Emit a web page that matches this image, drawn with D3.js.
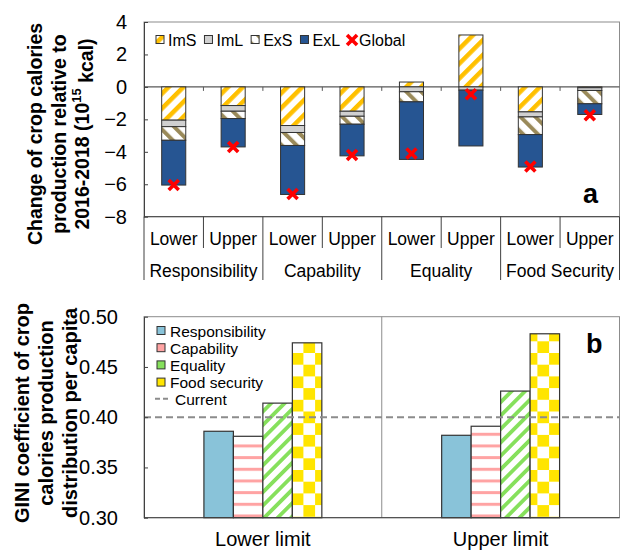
<!DOCTYPE html>
<html><head><meta charset="utf-8">
<script src="https://cdn.jsdelivr.net/npm/d3@7"></script>
<style>
html,body{margin:0;padding:0;background:#fff;}
text{font-family:"Liberation Sans",Arial,sans-serif;fill:#000;}
</style></head>
<body>
<svg id="chart" width="625" height="551"></svg>
<script>
// ---------- DATA ----------
const scenarios = ["Lower","Upper","Lower","Upper","Lower","Upper","Lower","Upper"];
const principles = ["Responsibility","Capability","Equality","Food Security"];
const seriesA = ["ImS","ImL","ExS","ExL"];
const ImS = [-2.05,-1.15,-2.38,-1.50, 0.30, 3.20,-1.54,-0.05];
const ImL = [-0.40,-0.35,-0.43,-0.31,-0.30,-0.20,-0.31,-0.17];
const ExS = [-0.84,-0.45,-0.80,-0.49,-0.62, 0.00,-1.09,-0.82];
const ExL = [-2.76,-1.75,-3.02,-1.95,-3.55,-3.44,-2.00,-0.66];
const Global = [-6.05,-3.70,-6.60,-4.20,-4.10,-0.45,-4.90,-1.75];
const yTicksA = [-8,-6,-4,-2,0,2,4];

const limits = ["Lower limit","Upper limit"];
const seriesB = ["Responsibility","Capability","Equality","Food security"];
const responsibility = [0.386, 0.382];
const capability = [0.381, 0.391];
const equality = [0.414, 0.426];
const foodSecurity = [0.474, 0.483];
const current = 0.40;
const yTicksB = [0.30,0.35,0.40,0.45,0.50];

// ---------- SETUP ----------
const svg = d3.select("#chart");
const defs = svg.append("defs");
function stripePattern(id, color, angle, period, band){
  const p = defs.append("pattern").attr("id",id).attr("patternUnits","userSpaceOnUse")
    .attr("width",period).attr("height",period).attr("patternTransform",`rotate(${angle})`);
  p.append("rect").attr("width",period).attr("height",period).attr("fill","#fff");
  p.append("rect").attr("width",band).attr("height",period).attr("fill",color);
}
stripePattern("pImS","#FFC000",45,10.5,4.5);
stripePattern("pExS","#9A8A5A",-45,10.5,4);
stripePattern("pEq","#86E05C",45,9.5,3.8);
(function(){
  const p = defs.append("pattern").attr("id","pCap").attr("patternUnits","userSpaceOnUse")
    .attr("width",10).attr("height",11.67).attr("y",1);
  p.append("rect").attr("width",10).attr("height",11.67).attr("fill","#fff");
  p.append("rect").attr("y",0).attr("width",10).attr("height",3).attr("fill","#FFA3A3");
  const q = defs.append("pattern").attr("id","pFS").attr("patternUnits","userSpaceOnUse")
    .attr("width",23.4).attr("height",23.4).attr("x",291.7).attr("y",2);
  q.append("rect").attr("width",23.4).attr("height",23.4).attr("fill","#fff");
  q.append("rect").attr("width",11.7).attr("height",11.7).attr("fill","#FFE500");
  q.append("rect").attr("x",11.7).attr("y",11.7).attr("width",11.7).attr("height",11.7).attr("fill","#FFE500");
})();
const fillA = {ImS:"url(#pImS)", ImL:"#D0D0D0", ExS:"url(#pExS)", ExL:"#265592"};
const fillB = {"Responsibility":"#89C3D9","Capability":"url(#pCap)","Equality":"url(#pEq)","Food security":"url(#pFS)"};

// ---------- PANEL A ----------
const aL=144, aR=619.5, aT=22, aB=216.7;
const xA = d3.scaleBand().domain(d3.range(scenarios.length)).range([aL,aR]).padding(0);
const bwA = xA.bandwidth()*0.405;
const yA = d3.scaleLinear().domain([-8,4]).range([aB,aT]);

const gA = svg.append("g");
gA.append("rect").attr("x",aL).attr("y",aT).attr("width",aR-aL).attr("height",aB-aT)
  .attr("fill","none").attr("stroke","#8c8c8c").attr("stroke-width",1);

const rowsA = scenarios.map((s,i)=>({i, ImS:ImS[i], ImL:ImL[i], ExS:ExS[i], ExL:ExL[i]}));
const stackA = d3.stack().keys(seriesA).offset(d3.stackOffsetDiverging)(rowsA);

gA.append("line").attr("x1",aL).attr("x2",aR).attr("y1",yA(0)).attr("y2",yA(0))
  .attr("stroke","#595959").attr("stroke-width",1.2);
gA.selectAll("line.zt").data(d3.range(1,scenarios.length)).join("line").attr("class","zt")
  .attr("x1",d=>xA(d)).attr("x2",d=>xA(d)).attr("y1",yA(0)).attr("y2",yA(0)+4)
  .attr("stroke","#595959").attr("stroke-width",1);

stackA.forEach(layer=>{
  gA.selectAll(null).data(layer.filter(d=>Math.abs(d[1]-d[0])>1e-9)).join("rect")
    .attr("x",d=>xA(d.data.i)+xA.bandwidth()/2-bwA/2)
    .attr("width",bwA)
    .attr("y",d=>yA(Math.max(d[0],d[1])))
    .attr("height",d=>Math.abs(yA(d[0])-yA(d[1])))
    .attr("fill",fillA[layer.key]).attr("stroke","#333").attr("stroke-width",1);
});
const xSym = d3.symbol(d3.symbolX, 67);
gA.selectAll("path.glob").data(Global).join("path").attr("class","glob")
  .attr("d",xSym).attr("transform",(d,i)=>`translate(${xA(i)+xA.bandwidth()/2},${yA(d)})`)
  .attr("fill","none").attr("stroke","#FF0000").attr("stroke-width",3.6);

const axA = gA.append("g").attr("transform",`translate(${aL},0)`)
  .call(d3.axisLeft(yA).tickValues(yTicksA).tickSizeInner(-4).tickSizeOuter(0).tickPadding(17).tickFormat(d3.format("d")));
axA.select(".domain").attr("stroke","#404040");
axA.selectAll(".tick line").attr("stroke","#404040");
axA.selectAll("text").attr("font-size",20).attr("font-family","Liberation Sans, Arial, sans-serif").attr("fill","#000");

gA.append("line").attr("x1",aL).attr("x2",aR).attr("y1",aB).attr("y2",aB).attr("stroke","#404040");
const bounds = d3.range(0,scenarios.length+1);
gA.selectAll("line.sep").data(bounds).join("line").attr("class","sep")
  .attr("x1",d=>d<scenarios.length?xA(d):aR).attr("x2",d=>d<scenarios.length?xA(d):aR)
  .attr("y1",aB).attr("y2",d=>d%2===0?280:248)
  .attr("stroke","#404040").attr("stroke-width",1);
gA.selectAll("text.scen").data(scenarios).join("text").attr("class","scen")
  .attr("x",(d,i)=>xA(i)+xA.bandwidth()/2).attr("y",244.5).attr("text-anchor","middle")
  .attr("font-size",17.5).text(d=>d);
gA.selectAll("text.princ").data(principles).join("text").attr("class","princ")
  .attr("x",(d,i)=>xA(i*2+1)).attr("y",276.5).attr("text-anchor","middle")
  .attr("font-size",17.5).text(d=>d);

const legA = gA.append("g").attr("transform","translate(156,40)");
let lx = 0;
seriesA.forEach(k=>{
  legA.append("rect").attr("x",lx).attr("y",-4.5).attr("width",8).attr("height",8)
    .attr("fill",fillA[k]).attr("stroke","#333").attr("stroke-width",1);
  const t = legA.append("text").attr("x",lx+12).attr("y",6).attr("font-size",16).text(k);
  lx += 12 + t.node().getComputedTextLength() + 8;
});
legA.append("path").attr("d",xSym).attr("transform",`translate(${lx+4},0)`)
  .attr("fill","none").attr("stroke","#FF0000").attr("stroke-width",3.6);
legA.append("text").attr("x",lx+11).attr("y",6).attr("font-size",16).text("Global");

gA.append("text").attr("x",583).attr("y",203).attr("font-size",27).attr("font-weight","bold").text("a");

const tA = [ "Change of crop calories", "production relative to" ];
const tAx = [35, 59];
tA.forEach((s,i)=>{
  svg.append("text").attr("transform",`translate(${tAx[i]},134) rotate(-90)`)
    .attr("dy","0.35em").attr("text-anchor","middle").attr("font-size",19.5).attr("font-weight","bold").text(s);
});
const t3 = svg.append("text").attr("transform",`translate(82,134) rotate(-90)`)
  .attr("dy","0.35em").attr("text-anchor","middle").attr("font-size",19.5).attr("font-weight","bold");
t3.append("tspan").text("2016-2018 (10");
t3.append("tspan").attr("font-size",13).attr("dy","-0.6em").text("15");
t3.append("tspan").attr("dy","0.6em").text(" kcal)");

// ---------- PANEL B ----------
const bL=144, bR=619.5, bT=316.7, bB=517.7;
const x0 = d3.scaleBand().domain(limits).range([bL,bR]).padding(0);
const groupW = x0.bandwidth()*0.496;
const x1 = d3.scaleBand().domain(seriesB).range([0,groupW]).padding(0);
const yB = d3.scaleLinear().domain([0.30,0.50]).range([bB,bT]);
const gB = svg.append("g");
gB.append("rect").attr("x",bL).attr("y",bT).attr("width",bR-bL).attr("height",bB-bT)
  .attr("fill","none").attr("stroke","#8c8c8c");
gB.append("line").attr("x1",x0(limits[1])).attr("x2",x0(limits[1])).attr("y1",bT).attr("y2",bB)
  .attr("stroke","#8c8c8c");
const valsB = {"Responsibility":responsibility,"Capability":capability,"Equality":equality,"Food security":foodSecurity};
limits.forEach((lim,li)=>{
  const gx = x0(lim)+x0.bandwidth()/2-groupW/2;
  gB.selectAll(null).data(seriesB).join("rect")
    .attr("x",s=>gx+x1(s)).attr("width",x1.bandwidth())
    .attr("y",s=>yB(valsB[s][li])).attr("height",s=>bB-yB(valsB[s][li]))
    .attr("fill",s=>fillB[s]).attr("stroke","#333").attr("stroke-width",1.2);
});
gB.append("line").attr("x1",bL).attr("x2",bR).attr("y1",yB(current)).attr("y2",yB(current))
  .attr("stroke","#8c8c8c").attr("stroke-width",2).attr("stroke-dasharray","7,4");
const axB = gB.append("g").attr("transform",`translate(${bL},0)`)
  .call(d3.axisLeft(yB).tickValues(yTicksB).tickSizeInner(-4).tickSizeOuter(0).tickPadding(26).tickFormat(d3.format(".2f")));
axB.select(".domain").attr("stroke","#404040");
axB.selectAll(".tick line").attr("stroke","#404040");
axB.selectAll("text").attr("font-size",20).attr("font-family","Liberation Sans, Arial, sans-serif").attr("fill","#000");
gB.append("line").attr("x1",bL).attr("x2",bR).attr("y1",bB).attr("y2",bB).attr("stroke","#404040");
gB.selectAll("text.lim").data(limits).join("text").attr("class","lim")
  .attr("x",d=>x0(d)+x0.bandwidth()/2).attr("y",545.5).attr("text-anchor","middle")
  .attr("font-size",20).text(d=>d);

const legB = gB.append("g").attr("transform","translate(157,331)");
seriesB.forEach((s,i)=>{
  legB.append("rect").attr("x",0).attr("y",i*17.2-4.5).attr("width",8).attr("height",8)
    .attr("fill",s==="Responsibility"?fillB[s]:({"Capability":"#FFA3A3","Equality":"#86E05C","Food security":"#FFE500"})[s])
    .attr("stroke","#333");
  legB.append("text").attr("x",13).attr("y",i*17.2+5.5).attr("font-size",15.5).text(s);
});
legB.append("line").attr("x1",-2).attr("x2",11).attr("y1",4*17.2-1).attr("y2",4*17.2-1)
  .attr("stroke","#8c8c8c").attr("stroke-width",2).attr("stroke-dasharray","5,3");
legB.append("text").attr("x",18).attr("y",4*17.2+5.5).attr("font-size",15.5).text("Current");

gB.append("text").attr("x",586).attr("y",353).attr("font-size",27).attr("font-weight","bold").text("b");

const tB = ["GINI coefficient of crop","calories production","distribution per capita"];
const tBx = [22,46,70];
tB.forEach((s,i)=>{
  svg.append("text").attr("transform",`translate(${tBx[i]},413) rotate(-90)`)
    .attr("dy","0.35em").attr("text-anchor","middle").attr("font-size",20).attr("font-weight","bold").text(s);
});
</script>
</body></html>
